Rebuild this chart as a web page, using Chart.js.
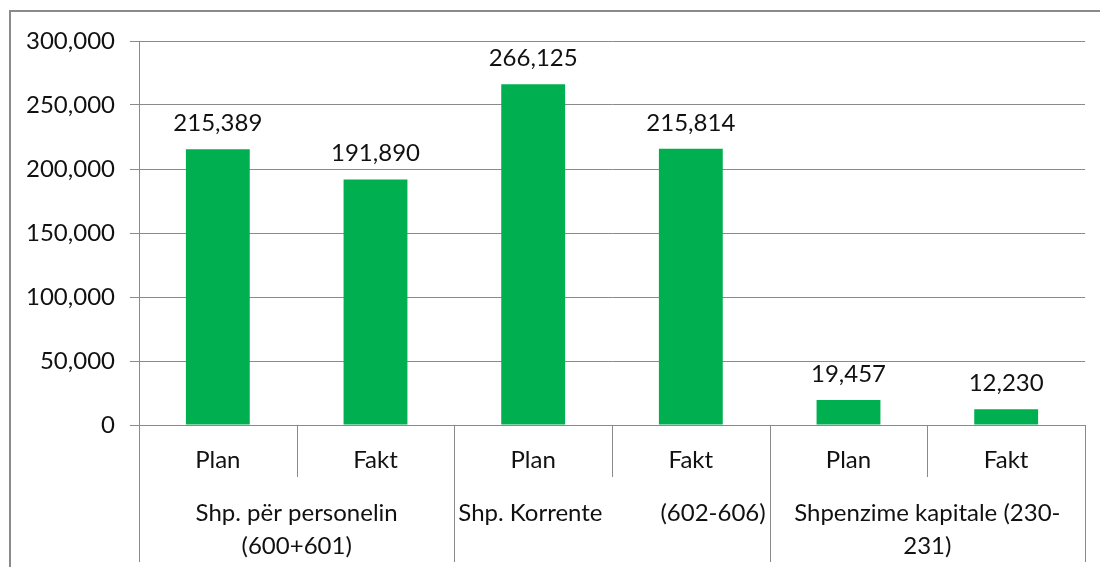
<!DOCTYPE html>
<html>
<head>
<meta charset="utf-8">
<script src="https://cdn.jsdelivr.net/npm/chart.js@4.4.1/dist/chart.umd.min.js"></script>
<style>
    html, body { margin: 0; padding: 0; background: #fff; }
    #wrap { width: 1100px; height: 567px; position: relative; }
</style>
</head>
<body>
<div id="wrap"><canvas id="chart"></canvas></div>
<script>
// chart data
const categories = ['Plan', 'Fakt', 'Plan', 'Fakt', 'Plan', 'Fakt']
const groupLabels = [
    ['Shp. për personelin', '(600+601)'],
    ['Shp. Korrente', '(602-606)'],
    ['Shpenzime kapitale (230-', '231)']
]
const values = [215389, 191890, 266125, 215814, 19457, 12230]
const yTicks = [0, 50000, 100000, 150000, 200000, 250000, 300000]

const FONT = 'Lato, "Open Sans", sans-serif'
const LINE = '#8a8a8a'
const fmt = v => v.toLocaleString('en-US')

// frame, value labels, and the two-level category axis
const excelLook = {
    id: 'excelLook',
    beforeDraw(chart) {
        const { ctx } = chart
        ctx.save()
        ctx.fillStyle = '#fff'
        ctx.fillRect(0, 0, chart.width, chart.height)
        ctx.strokeStyle = LINE
        ctx.lineWidth = 2
        ctx.strokeRect(10, 11, chart.width + 20, chart.height + 20)
        ctx.restore()
    },
    afterDraw(chart) {
        const { ctx, chartArea } = chart
        const x = chart.scales.x
        const bottom = chartArea.bottom
        ctx.save()

        // value labels above bars
        ctx.font = '24px ' + FONT
        ctx.fillStyle = '#111'
        ctx.textAlign = 'center'
        ctx.textBaseline = 'alphabetic'
        chart.getDatasetMeta(0).data.forEach((bar, i) => {
            ctx.fillText(fmt(values[i]), bar.x, bar.y - 18)
        })

        // separators
        ctx.strokeStyle = LINE
        ctx.lineWidth = 1
        const step = x.getPixelForValue(1) - x.getPixelForValue(0)
        for (let i = 0; i <= categories.length; i++) {
            const px = Math.round(x.getPixelForValue(0) - step / 2 + i * step) + 0.5
            const len = i % 2 === 0 ? 137 : 52
            ctx.beginPath()
            ctx.moveTo(px, bottom)
            ctx.lineTo(px, bottom + len)
            ctx.stroke()
        }

        // group labels
        ctx.fillStyle = '#111'
        ctx.textBaseline = 'middle'
        groupLabels.forEach((lines, g) => {
            const left = x.getPixelForValue(g * 2) - step / 2
            const right = left + step * 2
            const mid = (left + right) / 2
            if (g === 1) {
                ctx.textAlign = 'left'
                ctx.fillText(lines[0], left + 4, bottom + 88)
                ctx.textAlign = 'right'
                ctx.fillText(lines[1], right - 4, bottom + 88)
            } else {
                ctx.textAlign = 'center'
                lines.forEach((t, k) => ctx.fillText(t, mid, bottom + 88 + k * 33))
            }
        })
        ctx.restore()
    }
}

new Chart(document.getElementById('chart'), {
    type: 'bar',
    data: {
        labels: categories,
        datasets: [{
            data: values,
            backgroundColor: '#00b050',
            categoryPercentage: 1,
            barPercentage: 0.405
        }]
    },
    options: {
        responsive: true,
        maintainAspectRatio: false,
        animation: false,
        layout: { padding: { top: 41, right: 15, left: 0, bottom: 0 } },
        plugins: { legend: { display: false }, tooltip: { enabled: false } },
        scales: {
            x: {
                grid: { display: false, drawTicks: false },
                border: { display: true, color: LINE },
                ticks: { color: '#111', font: { family: FONT, size: 24 }, padding: 21 },
                afterFit: s => { s.height = 142 }
            },
            y: {
                min: 0,
                max: 300000,
                afterBuildTicks: s => { s.ticks = yTicks.map(v => ({ value: v })) },
                grid: { color: LINE, tickLength: 9 },
                border: { display: true, color: LINE },
                ticks: {
                    color: '#111',
                    font: { family: FONT, size: 24 },
                    padding: 15,
                    callback: v => fmt(v)
                },
                afterFit: s => { s.width = 139 }
            }
        }
    },
    plugins: [excelLook]
})
</script>
</body>
</html>
